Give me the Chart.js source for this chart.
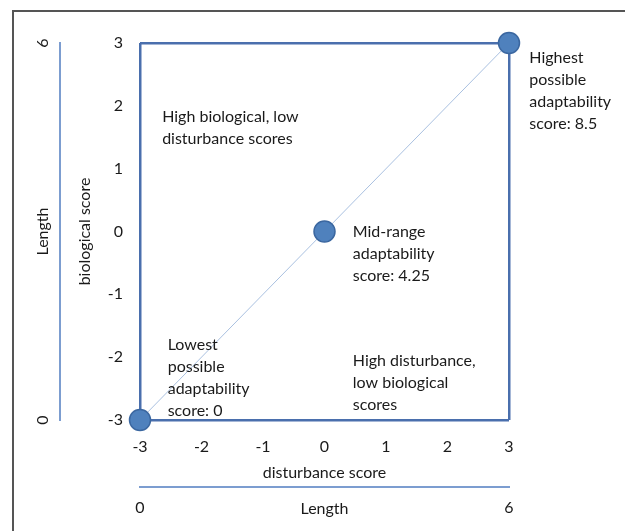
<!DOCTYPE html>
<html>
<head>
<meta charset="utf-8">
<script src="https://cdn.jsdelivr.net/npm/chart.js@4.4.1/dist/chart.umd.min.js"></script>
<style>
  html, body { margin: 0; padding: 0; background: #fff; }
  #quadro { position: relative; width: 625px; height: 531px; }
  #moldura { position: absolute; left: 12px; top: 10px; right: 0; bottom: 0;
             border-left: 2px solid #555; border-top: 2px solid #555; }
  #grafico { position: absolute; left: 0; top: 0; }
</style>
</head>
<body>
<div id="quadro">
  <div id="moldura"></div>
  <canvas id="grafico" width="625" height="531"></canvas>
</div>
<script>
// dados
const disturbance = [-3, 0, 3];
const biological = [-3, 0, 3];
const scoreTicks = [-3, -2, -1, 0, 1, 2, 3];
const lengthTicks = [0, 6];

// textos dentro do grafico (ancorados em unidades do grafico)
const notas = [
  { x: -2.64, y: 1.82, linhas: ['High biological, low', 'disturbance scores'] },
  { x: 3.33, y: 2.76, linhas: ['Highest', 'possible', 'adaptability', 'score: 8.5'] },
  { x: 0.46, y: 0.0, linhas: ['Mid-range', 'adaptability', 'score: 4.25'] },
  { x: -2.55, y: -1.81, linhas: ['Lowest', 'possible', 'adaptability', 'score: 0'] },
  { x: 0.46, y: -2.06, linhas: ['High disturbance,', 'low biological', 'scores'] }
];

const corMoldura = '#4A6FAD';
const corLength = '#7C9DD0';
const fonte = 'Lato, "Open Sans", sans-serif';

Chart.defaults.font.family = fonte;
Chart.defaults.font.size = 16;
Chart.defaults.color = '#1a1a1a';

const notasPlugin = {
  id: 'notas',
  afterDatasetsDraw(chart) {
    const { ctx, scales: { x, y } } = chart;
    ctx.save();
    ctx.font = '16px ' + fonte;
    ctx.fillStyle = '#1a1a1a';
    ctx.textAlign = 'left';
    ctx.textBaseline = 'middle';
    notas.forEach(n => {
      const px = x.getPixelForValue(n.x);
      const py = y.getPixelForValue(n.y);
      n.linhas.forEach((t, i) => ctx.fillText(t, px, py + i * 22));
    });
    ctx.restore();
  }
};

// so as linhas de -3 e 3 formam a moldura azul
const corGrade = c => (c.tick && Math.abs(c.tick.value) === 3) ? corMoldura : 'rgba(0,0,0,0)';

const ctx = document.getElementById('grafico').getContext('2d');
const grafico = new Chart(ctx, {
  type: 'scatter',
  data: {
    datasets: [{
      data: disturbance.map((v, i) => ({ x: v, y: biological[i] })),
      showLine: true,
      borderColor: '#A9C0E0',
      borderWidth: 1,
      pointRadius: 10.5,
      pointHoverRadius: 10.5,
      pointBackgroundColor: '#4F81BD',
      pointBorderColor: '#3B67A0',
      pointBorderWidth: 1.5,
      clip: false
    }]
  },
  options: {
    responsive: false,
    animation: false,
    layout: { padding: { left: 20, top: 43, right: 116, bottom: 0 }, autoPadding: false },
    plugins: { legend: { display: false }, tooltip: { enabled: false } },
    scales: {
      x: {
        type: 'linear', position: 'bottom', min: -3, max: 3,
        afterBuildTicks: s => { s.ticks = scoreTicks.map(v => ({ value: v })); },
        afterFit: s => { s.height = 67; },
        grid: { color: corGrade, lineWidth: 2.5, drawTicks: false },
        border: { display: false },
        ticks: { padding: 17 },
        title: { display: true, text: 'disturbance score', padding: { top: 0, bottom: 5 } }
      },
      y: {
        type: 'linear', position: 'left', min: -3, max: 3,
        afterBuildTicks: s => { s.ticks = scoreTicks.map(v => ({ value: v })); },
        afterFit: s => { s.width = 80; },
        grid: { color: corGrade, lineWidth: 2.5, drawTicks: false },
        border: { display: false },
        ticks: { padding: 17 },
        title: { display: true, text: 'biological score', padding: { top: 15, bottom: 0 } }
      },
      x2: {
        type: 'linear', position: 'bottom', weight: 1, min: 0, max: 6,
        afterBuildTicks: s => { s.ticks = lengthTicks.map(v => ({ value: v })); },
        afterFit: s => { s.height = 44; },
        grid: { display: false, drawTicks: false },
        border: { display: true, color: corLength, width: 2 },
        ticks: { padding: 11 },
        title: { display: true, text: 'Length', padding: { top: 0, bottom: 13 } }
      },
      y2: {
        type: 'linear', position: 'left', weight: 1, min: 0, max: 6,
        afterBuildTicks: s => { s.ticks = lengthTicks.map(v => ({ value: v })); },
        afterFit: s => { s.width = 40; },
        grid: { display: false, drawTicks: false },
        border: { display: true, color: corLength, width: 2 },
        ticks: { padding: 13, minRotation: 90, maxRotation: 90, crossAlign: 'center' },
        title: { display: true, text: 'Length', padding: { top: 13, bottom: 0 } }
      }
    }
  },
  plugins: [notasPlugin]
});
</script>
</body>
</html>
